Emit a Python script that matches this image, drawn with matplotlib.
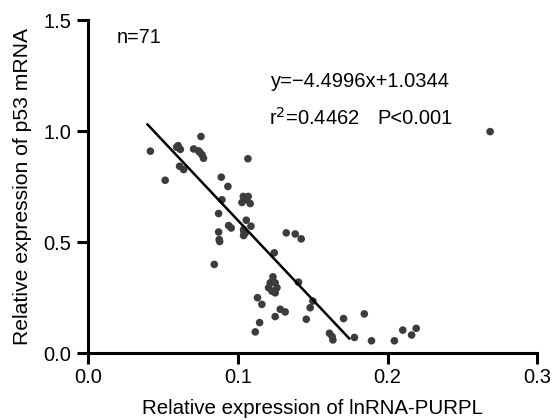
import matplotlib
matplotlib.use("Agg")
import matplotlib.pyplot as plt
import numpy as np

plt.rcParams['font.family'] = ['Liberation Sans', 'DejaVu Sans']

# lncRNA-PURPL relative expression (x) vs p53 mRNA relative expression (y)
purpl = [0.0415, 0.0514, 0.0590, 0.0615, 0.0610, 0.0637, 0.0704, 0.0737, 0.0760, 0.0770,
         0.0753, 0.0889, 0.0933, 0.0893, 0.0871, 0.0871, 0.0875, 0.0878, 0.0938, 0.0955,
         0.0842, 0.1067, 0.1027, 0.1036, 0.1060, 0.1069, 0.1082, 0.1056, 0.1087, 0.1038,
         0.1049, 0.1038, 0.1243, 0.1323, 0.1383, 0.1423, 0.1234, 0.1216, 0.1249, 0.1205,
         0.1261, 0.1227, 0.1249, 0.1405, 0.1501, 0.1483, 0.1131, 0.1160, 0.1283, 0.1316,
         0.1249, 0.1457, 0.1145, 0.1116, 0.1706, 0.1612, 0.1635, 0.1779, 0.1845, 0.1893,
         0.2046, 0.2102, 0.2161, 0.2192, 0.2686, 0.0600, 0.0745, 0.1052, 0.1040, 0.1225,
         0.1630]
p53 = [0.910, 0.779, 0.928, 0.918, 0.842, 0.827, 0.920, 0.911, 0.894, 0.878,
       0.976, 0.793, 0.751, 0.691, 0.629, 0.546, 0.512, 0.503, 0.575, 0.564,
       0.400, 0.876, 0.679, 0.706, 0.692, 0.706, 0.674, 0.599, 0.572, 0.557,
       0.542, 0.530, 0.452, 0.542, 0.537, 0.515, 0.344, 0.317, 0.317, 0.295,
       0.295, 0.280, 0.272, 0.320, 0.235, 0.205, 0.250, 0.220, 0.198, 0.186,
       0.165, 0.153, 0.138, 0.096, 0.156, 0.090, 0.060, 0.071, 0.177, 0.056,
       0.056, 0.104, 0.082, 0.112, 0.998, 0.935, 0.905, 0.700, 0.548, 0.320,
       0.075]

# fitted line end points as drawn
fit_x = [0.0396, 0.1744]
fit_y = [1.030, 0.0665]

x_ticks = [0.0, 0.1, 0.2, 0.3]
y_ticks = [0.0, 0.5, 1.0, 1.5]

fig = plt.figure(figsize=(5.52, 4.2), dpi=100)
ax = fig.add_axes([0.160, 0.159, 0.813, 0.793])

ax.scatter(purpl, p53, s=30, color='#3c3c3c', edgecolors='none', zorder=3)
ax.plot(fit_x, fit_y, color='black', lw=1.8, zorder=4)

ax.set_xlim(0, 0.3)
ax.set_ylim(0, 1.5)
ax.set_xticks(x_ticks)
ax.set_yticks(y_ticks)
ax.set_xticklabels([f"{v:.1f}" for v in x_ticks])
ax.set_yticklabels([f"{v:.1f}" for v in y_ticks])

for s in ['top', 'right']:
    ax.spines[s].set_visible(False)
for s in ['left', 'bottom']:
    ax.spines[s].set_linewidth(2.2)
    ax.spines[s].set_capstyle('projecting')
ax.tick_params(direction='out', length=8, width=2.2, labelsize=14.5, colors='black')
ax.tick_params(axis='x', pad=3)
ax.tick_params(axis='y', pad=4.5)

ax.set_xlabel('Relative expression of lnRNA-PURPL', fontsize=14.8, labelpad=8.5)
ax.set_ylabel('Relative expression of p53 mRNA', fontsize=15.2, labelpad=8)

ax.text(0.0189, 1.423, 'n=71', fontsize=14.3, va='center', ha='left')
ax.text(0.1221, 1.223, 'y=\u22124.4996x+1.0344', fontsize=14.5, va='center', ha='left')
ax.text(0.1205, 1.058, 'r$^2$=0.4462', fontsize=14.5, va='center', ha='left')
ax.text(0.1929, 1.058, 'P<0.001', fontsize=14.5, va='center', ha='left')

fig.savefig('out.png', dpi=100)
